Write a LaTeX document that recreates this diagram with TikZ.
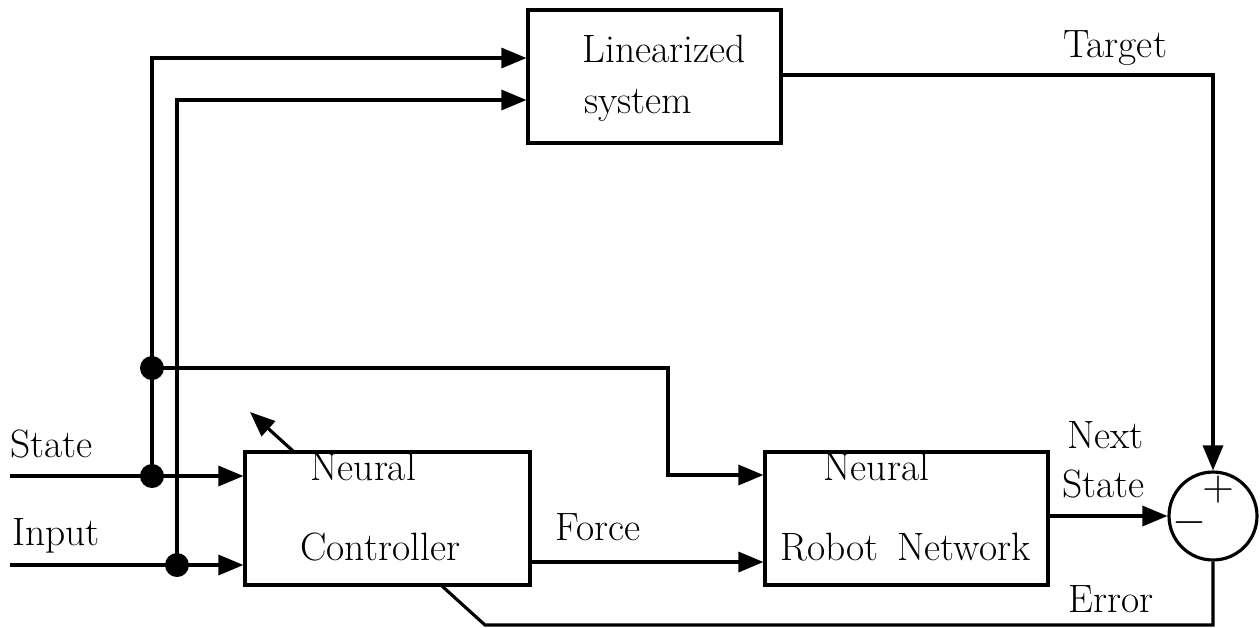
\documentclass[tikz,border=0pt]{standalone}
\usetikzlibrary{arrows.meta,backgrounds}
\begin{document}
\begin{tikzpicture}
        [x=0.02cm,y=-0.02cm,
        boxdecorate/.style={shape=rectangle,draw,line width=1.8pt,fill=white,inner sep=0pt,minimum height=2.66cm},%
        sumdecorate/.style={shape=circle,draw,line width=1.8pt,fill=white,inner sep=0pt,minimum size=1.76cm},%
        dotdecorate/.style={shape=circle,fill,inner sep=0pt,minimum size=0.48cm},%
        textdecorate/.style={inner sep=0pt,anchor=base west,font=\fontsize{22.5}{27}\selectfont},%
        arrowdecorate/.style={-{Triangle[length=0.5cm,width=0.4cm]},line width=1.8pt},%
        linedecorate/.style={-,line width=1.8pt}]
        \useasboundingbox (0,0) rectangle (1260,627);
        %% blocks
        \node (lin) at (654.5,76.5) [boxdecorate,minimum width=5.06cm] {};
        \node (ctrl) at (387.5,518.5) [boxdecorate,minimum width=5.7cm] {};
        \node (robot) at (906.5,518.5) [boxdecorate,minimum width=5.66cm] {};
        \node (sum) at (1213,516) [sumdecorate] {};
        \node (plus) at (1218,490) [inner sep=0pt,font=\fontsize{24}{28}\selectfont] {$+$};
        \node (minus) at (1189,523) [inner sep=0pt,font=\fontsize{24}{28}\selectfont] {$-$};
        %% texts
        \foreach \nodename/\x/\y/\text in {tlin/582/62/Linearized, tsys/584/113/system,
          tneur/310/480/Neural, tctrl/300/560/Controller, trneur/823/480/Neural,
          trob/780/560/Robot~\,Network, tforce/555/540/Force, ttarget/1063/57/Target,
          tnext/1067/448/Next, tnstate/1062/497/State, terror/1068/612/Error,
          tstate/10/457/State, tinput/12/545/Input}
        {
          \node (\nodename) at (\x,\y) [textdecorate] {\text};
        }
        %% junctions
        \node (tdot) at (152,368) [dotdecorate] {};
        \node (sdot) at (152,476) [dotdecorate] {};
        \node (idot) at (177,565) [dotdecorate] {};
        \coordinate (statein) at (10,476);
        \coordinate (inputin) at (10,565);
        \coordinate (bend) at (668,368);
        \coordinate (errcorner) at (485,625);
        \coordinate (adapt) at (250,412);
        %% edges or lines
        \draw[arrowdecorate] (statein) -- (statein -| ctrl.west);
        \draw[arrowdecorate] (inputin) -- (inputin -| ctrl.west);
        \draw[arrowdecorate] (sdot.center) |- (lin.west |- 0,58);
        \draw[arrowdecorate] (idot.center) |- (lin.west |- 0,100);
        \draw[arrowdecorate] (tdot.center) -- (bend) |- (robot.west |- 0,475);
        \draw[arrowdecorate] (ctrl.east |- 0,562) -- (robot.west |- 0,562);
        \draw[arrowdecorate] (robot.east |- sum.west) -- (sum.west);
        \draw[arrowdecorate] (lin.east |- 0,75) -| (sum.north);
        \begin{pgfonlayer}{background}
          \draw[arrowdecorate] (sum.south) |- (errcorner) -- (adapt);
        \end{pgfonlayer}
      \end{tikzpicture}
\end{document}
